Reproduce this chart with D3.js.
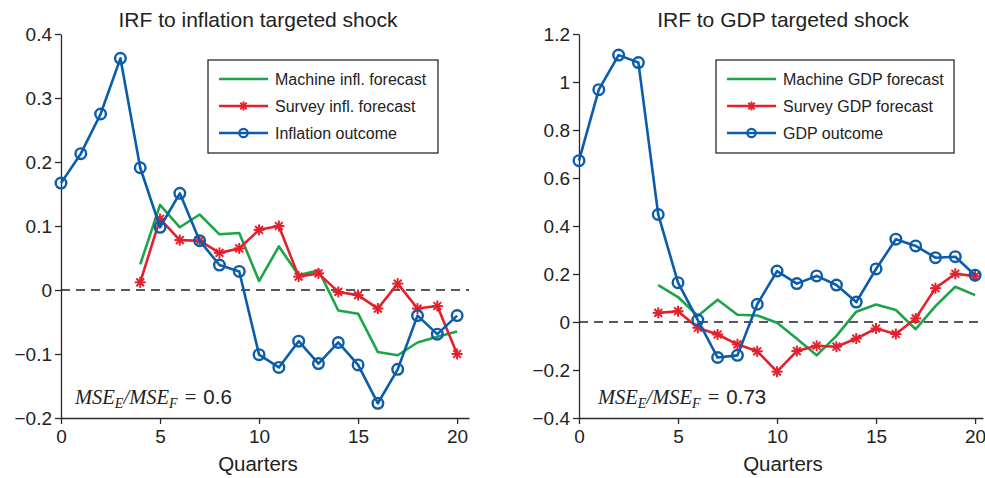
<!DOCTYPE html>
<html>
<head>
<meta charset="utf-8">
<script src="https://cdn.jsdelivr.net/npm/d3@7"></script>
<style>
  html, body { margin: 0; padding: 0; background: #fff; }
  svg { display: block; }
  text { font-family: "Liberation Sans", Arial, Helvetica, sans-serif; fill: #222; }
</style>
</head>
<body>
<svg id="chart" width="985" height="478"></svg>
<script>
// Horizon in quarters
const quarters = d3.range(0, 21);
const forecastQuarters = d3.range(4, 21);

// Panel 1: response to an inflation-targeted shock
const inflOutcome = [0.167, 0.213, 0.275, 0.362, 0.191, 0.098, 0.151, 0.077, 0.039, 0.029,
  -0.101, -0.121, -0.080, -0.115, -0.082, -0.117, -0.177, -0.124, -0.040, -0.069, -0.040];
const inflSurvey = [0.012, 0.111, 0.078, 0.077, 0.058, 0.065, 0.094, 0.100, 0.021, 0.026,
  -0.003, -0.008, -0.029, 0.010, -0.029, -0.025, -0.100];
const inflMachine = [0.040, 0.133, 0.098, 0.118, 0.087, 0.089, 0.014, 0.068, 0.023, 0.031,
  -0.032, -0.037, -0.097, -0.102, -0.082, -0.073, -0.065];

// Panel 2: response to a GDP-targeted shock
const gdpOutcome = [0.672, 0.968, 1.112, 1.081, 0.448, 0.164, 0.008, -0.148, -0.139, 0.074,
  0.212, 0.160, 0.192, 0.154, 0.083, 0.221, 0.345, 0.317, 0.268, 0.272, 0.195];
const gdpSurvey = [0.038, 0.045, -0.024, -0.052, -0.093, -0.122, -0.207, -0.121, -0.099, -0.103,
  -0.069, -0.027, -0.050, 0.015, 0.141, 0.201, 0.191];
const gdpMachine = [0.154, 0.104, 0.025, 0.093, 0.030, 0.027, -0.003, -0.070, -0.139, -0.058,
  0.043, 0.073, 0.050, -0.030, 0.066, 0.147, 0.112];

// Axis ticks
const xTicks = [0, 5, 10, 15, 20];
const inflYTicks = [-0.2, -0.1, 0, 0.1, 0.2, 0.3, 0.4];
const gdpYTicks = [-0.4, -0.2, 0, 0.2, 0.4, 0.6, 0.8, 1, 1.2];

const titles = ["IRF to inflation targeted shock", "IRF to GDP targeted shock"];
const legendLabels = [
  ["Machine infl. forecast", "Survey infl. forecast", "Inflation outcome"],
  ["Machine GDP forecast", "Survey GDP forecast", "GDP outcome"]
];
const mseRatios = ["0.6", "0.73"];

const COLORS = { machine: "#1ea448", survey: "#e3212d", outcome: "#0b5cab" };

const svg = d3.select("#chart");
const fmt = d => d3.format("~g")(d);

function asterisk(g, x, y, s, color) {
  const a = g.append("g").attr("transform", `translate(${x},${y})`)
    .attr("stroke", color).attr("stroke-width", 2).attr("stroke-linecap", "butt");
  [0, 45, 90, 135].forEach(ang => {
    const r = ang * Math.PI / 180;
    a.append("line")
      .attr("x1", -s * Math.cos(r)).attr("y1", -s * Math.sin(r))
      .attr("x2", s * Math.cos(r)).attr("y2", s * Math.sin(r));
  });
}

function panel(cfg) {
  const g = svg.append("g");
  const x = d3.scaleLinear().domain(cfg.xDomain).range(cfg.xRange);
  const y = d3.scaleLinear().domain(cfg.yDomain).range([418, 34]);

  // axes
  const xAxis = d3.axisBottom(x).tickValues(xTicks).tickFormat(fmt).tickSize(6).tickSizeOuter(0);
  const yAxis = d3.axisLeft(y).tickValues(cfg.yTicks).tickFormat(fmt).tickSize(6).tickSizeOuter(0);
  const gx = g.append("g").attr("transform", `translate(0,${y.range()[0]})`).call(xAxis);
  const gy = g.append("g").attr("transform", `translate(${x.range()[0]},0)`).call(yAxis);
  [gx, gy].forEach(ax => {
    ax.selectAll("path.domain").attr("stroke", "#2a2a2a").attr("stroke-width", 1.3);
    ax.selectAll(".tick line").attr("stroke", "#2a2a2a").attr("stroke-width", 1.3);
    ax.selectAll(".tick text").attr("font-size", 19).attr("fill", "#222")
      .attr("font-family", "Liberation Sans, Arial, sans-serif");
  });
  gx.selectAll(".tick text").attr("dy", "0.92em").attr("y", 8);
  gy.selectAll(".tick text").attr("x", -9);

  // zero reference line
  g.append("line")
    .attr("x1", x.range()[0]).attr("x2", x.range()[1])
    .attr("y1", y(0)).attr("y2", y(0))
    .attr("stroke", "#222").attr("stroke-width", 1.3).attr("stroke-dasharray", "9,6");

  const line = d3.line().x(d => x(d[0])).y(d => y(d[1]));
  const machine = forecastQuarters.map((q, i) => [q, cfg.machine[i]]);
  const survey = forecastQuarters.map((q, i) => [q, cfg.survey[i]]);
  const outcome = quarters.map((q, i) => [q, cfg.outcome[i]]);

  g.append("path").datum(machine).attr("d", line)
    .attr("fill", "none").attr("stroke", COLORS.machine).attr("stroke-width", 2.6)
    .attr("stroke-linejoin", "round");

  g.append("path").datum(survey).attr("d", line)
    .attr("fill", "none").attr("stroke", COLORS.survey).attr("stroke-width", 2.6)
    .attr("stroke-linejoin", "round");
  const sg = g.append("g");
  survey.forEach(d => asterisk(sg, x(d[0]), y(d[1]), 5.5, COLORS.survey));

  g.append("path").datum(outcome).attr("d", line)
    .attr("fill", "none").attr("stroke", COLORS.outcome).attr("stroke-width", 2.6)
    .attr("stroke-linejoin", "round");
  g.append("g").selectAll("circle").data(outcome).join("circle")
    .attr("cx", d => x(d[0])).attr("cy", d => y(d[1])).attr("r", 5.3)
    .attr("fill", "none").attr("stroke", COLORS.outcome).attr("stroke-width", 2.4);

  // title and axis label
  g.append("text").attr("x", cfg.center).attr("y", 27).attr("text-anchor", "middle")
    .attr("font-size", 21).text(cfg.title);
  g.append("text").attr("x", cfg.center).attr("y", 471).attr("text-anchor", "middle")
    .attr("font-size", 20.5).text("Quarters");

  // legend
  const lg = g.append("g").attr("transform", `translate(${cfg.legendX},60)`);
  lg.append("rect").attr("x", 0).attr("y", 0).attr("width", cfg.legendW).attr("height", 93)
    .attr("fill", "#fff").attr("stroke", "#2a2a2a").attr("stroke-width", 1.3);
  const rows = [COLORS.machine, COLORS.survey, COLORS.outcome];
  rows.forEach((c, i) => {
    const yy = 19 + i * 27;
    lg.append("line").attr("x1", 11).attr("x2", 60).attr("y1", yy).attr("y2", yy)
      .attr("stroke", c).attr("stroke-width", 2.6);
    if (i === 1) asterisk(lg, 35.5, yy, 4.5, c);
    if (i === 2) lg.append("circle").attr("cx", 35.5).attr("cy", yy).attr("r", 4.2)
      .attr("fill", "none").attr("stroke", c).attr("stroke-width", 2.2);
    lg.append("text").attr("x", 67).attr("y", yy).attr("dy", "0.35em")
      .attr("font-size", 16).text(cfg.legend[i]);
  });

  // error ratio annotation
  const serif = "Liberation Serif, Times New Roman, serif";
  const t = g.append("text").attr("x", cfg.mseX).attr("y", 404).attr("font-size", 20.5)
    .attr("xml:space", "preserve");
  const it = { "font-family": serif, "font-style": "italic" };
  const add = (txt, opts) => {
    const s = t.append("tspan").text(txt);
    Object.entries(opts || {}).forEach(([k, v]) => s.attr(k, v));
    return s;
  };
  add("MSE", it);
  add("E", Object.assign({ "font-size": 14, "dy": 4 }, it));
  add("/", { "dy": -4, "font-family": serif, "font-style": "italic" });
  add("MSE", it);
  add("F", Object.assign({ "font-size": 14, "dy": 4 }, it));
  add("\u2009= ", { "dy": -4, "font-family": serif, "dx": 3 });
  add(cfg.mse, { "font-family": "Liberation Sans, Arial, sans-serif", "dx": 2 });
}

panel({
  xDomain: [0, 20.6], xRange: [61, 469], yDomain: [-0.2, 0.4], yTicks: inflYTicks,
  outcome: inflOutcome, survey: inflSurvey, machine: inflMachine,
  title: titles[0], legend: legendLabels[0], center: 258, legendX: 208, legendW: 230,
  mse: mseRatios[0], mseX: 75
});
panel({
  xDomain: [0, 20.4], xRange: [579, 983], yDomain: [-0.4, 1.2], yTicks: gdpYTicks,
  outcome: gdpOutcome, survey: gdpSurvey, machine: gdpMachine,
  title: titles[1], legend: legendLabels[1], center: 783, legendX: 716, legendW: 238,
  mse: mseRatios[1], mseX: 598
});
</script>
</body>
</html>
